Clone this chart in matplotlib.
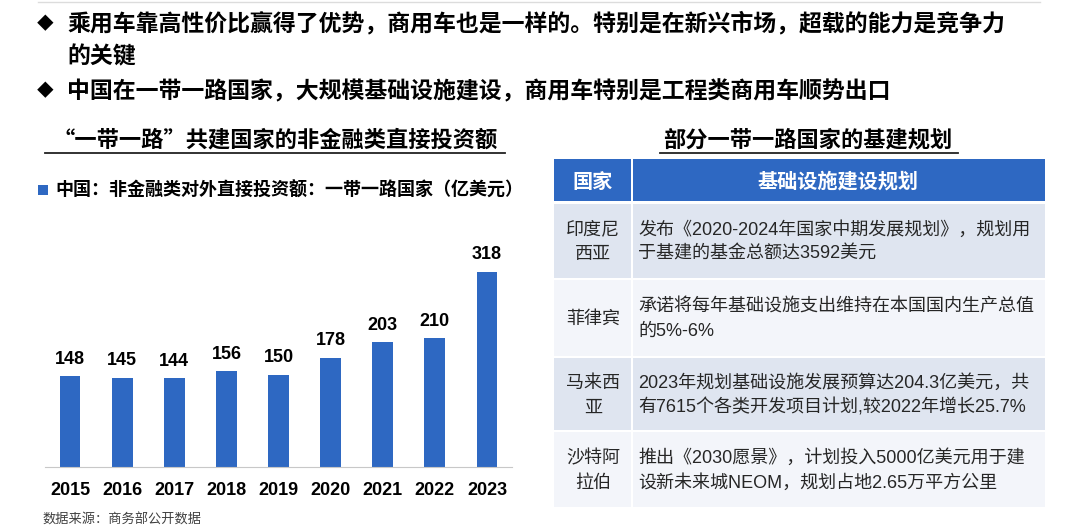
import matplotlib
matplotlib.use("Agg")
import matplotlib.pyplot as plt
from matplotlib.patches import Rectangle

plt.rcParams["font.family"] = ["Liberation Sans", "Noto Sans CJK SC", "DejaVu Sans"]
CJK = ["Noto Sans CJK SC", "DejaVu Sans"]
MIX = ["Liberation Sans", "Noto Sans CJK SC", "DejaVu Sans"]

# ---- 数据 ----
years = ["2015", "2016", "2017", "2018", "2019", "2020", "2021", "2022", "2023"]
invest = [148, 145, 144, 156, 150, 178, 203, 210, 318]

bullets = ["乘用车靠高性价比赢得了优势，商用车也是一样的。特别是在新兴市场，超载的能力是竞争力\n的关键",
           "中国在一带一路国家，大规模基础设施建设，商用车特别是工程类商用车顺势出口"]
left_title = "“一带一路”共建国家的非金融类直接投资额"
right_title = "部分一带一路国家的基建规划"
legend_label = "中国：非金融类对外直接投资额：一带一路国家（亿美元）"
source = "数据来源：商务部公开数据"

table_head = ["国家", "基础设施建设规划"]
countries = ["印度尼\n西亚", "菲律宾", "马来西\n亚", "沙特阿\n拉伯"]
plans = ["发布《2020-2024年国家中期发展规划》，规划用\n于基建的基金总额达3592美元",
         "承诺将每年基础设施支出维持在本国国内生产总值\n的5%-6%",
         "2023年规划基础设施发展预算达204.3亿美元，共\n有7615个各类开发项目计划,较2022年增长25.7%",
         "推出《2030愿景》，计划投入5000亿美元用于建\n设新未来城NEOM，规划占地2.65万平方公里"]

BLUE = "#2e68c2"
W, H = 1078, 532

fig = plt.figure(figsize=(W / 100, H / 100), dpi=100)
bg = fig.add_axes([0, 0, 1, 1])
bg.set_xlim(0, W); bg.set_ylim(H, 0); bg.axis("off")

# 顶部细线
bg.plot([38, 1040], [2, 2], color="#dcdcdc", lw=1)

# 要点
for y in [25, 92]:
    bg.text(45, y, "◆", family=CJK, fontsize=12, ha="center", va="center", color="black")
for y, t in zip([40, 92], bullets):
    bg.text(67, y, t, family=CJK, fontsize=16.5, weight="bold", ha="left", va="center",
            color="black", linespacing=1.6)

# 小标题 + 下划线
bg.text(275, 140, left_title, family=CJK, fontsize=16, weight="bold", ha="center", va="center")
bg.plot([45, 505], [153, 153], color="#222222", lw=1.3)
bg.text(808, 140, right_title, family=CJK, fontsize=16, weight="bold", ha="center", va="center")
bg.plot([660, 958], [153, 153], color="#222222", lw=1.3)

# 图例
bg.add_patch(Rectangle((38, 185), 10, 10, color=BLUE, lw=0))
bg.text(55, 190, legend_label, family=CJK, fontsize=13, weight="bold", ha="left", va="center")

# 数据来源
bg.text(42, 520, source, family=CJK, fontsize=9.5, ha="left", va="center", color="#404040")

# ---- 柱状图 ----
base_y, top_y, x0, x1 = 466.7, 220, 45, 512
ax = fig.add_axes([x0 / W, (H - base_y) / H, (x1 - x0) / W, (base_y - top_y) / H])
ax.patch.set_alpha(0)
ax.bar(range(len(years)), invest, width=0.4, color=BLUE)
ax.set_xlim(-0.48, len(years) - 0.52)
ax.set_ylim(0, (base_y - top_y) / 0.613)
for i, v in enumerate(invest):
    ax.annotate(str(v), (i, v), xytext=(0, 6), textcoords="offset points", ha="center",
                va="bottom", fontsize=13, weight="bold", family=MIX)
ax.set_xticks(range(len(years)))
ax.set_xticklabels(years, fontsize=13, weight="bold")
ax.tick_params(axis="x", length=0, pad=11)
ax.set_yticks([])
for s in ("left", "right", "top"):
    ax.spines[s].set_visible(False)
ax.spines["bottom"].set_color("#c8c8c8")

# ---- 表格 ----
c0, c1, c2 = 554, 632, 1045
rows = [(204, 278), (280, 356), (358, 430), (432, 507)]
row_colors = ["#dfe5f0", "#f3f5fa", "#dfe5f0", "#f3f5fa"]
bg.add_patch(Rectangle((c0, 159), c1 - 1 - c0, 42, color=BLUE, lw=0))
bg.add_patch(Rectangle((c1 + 1, 159), c2 - c1 - 1, 42, color=BLUE, lw=0))
bg.text((c0 + c1) / 2, 181, table_head[0], family=CJK, fontsize=14.5, weight="bold",
        color="white", ha="center", va="center")
bg.text((c1 + c2) / 2, 181, table_head[1], family=CJK, fontsize=14.5, weight="bold",
        color="white", ha="center", va="center")
for (ya, yb), col, cn, pl in zip(rows, row_colors, countries, plans):
    bg.add_patch(Rectangle((c0, ya), c1 - 1 - c0, yb - ya, color=col, lw=0))
    bg.add_patch(Rectangle((c1 + 1, ya), c2 - c1 - 1, yb - ya, color=col, lw=0))
    ym = (ya + yb) / 2 + 1
    bg.text((c0 + c1) / 2, ym, cn, family=CJK, fontsize=13, color="#262626",
            ha="center", va="center", linespacing=1.5)
    bg.text(638, ym, pl, family=MIX, fontsize=13, color="#262626",
            ha="left", va="center", linespacing=1.5)

fig.savefig("out.png", dpi=100)
